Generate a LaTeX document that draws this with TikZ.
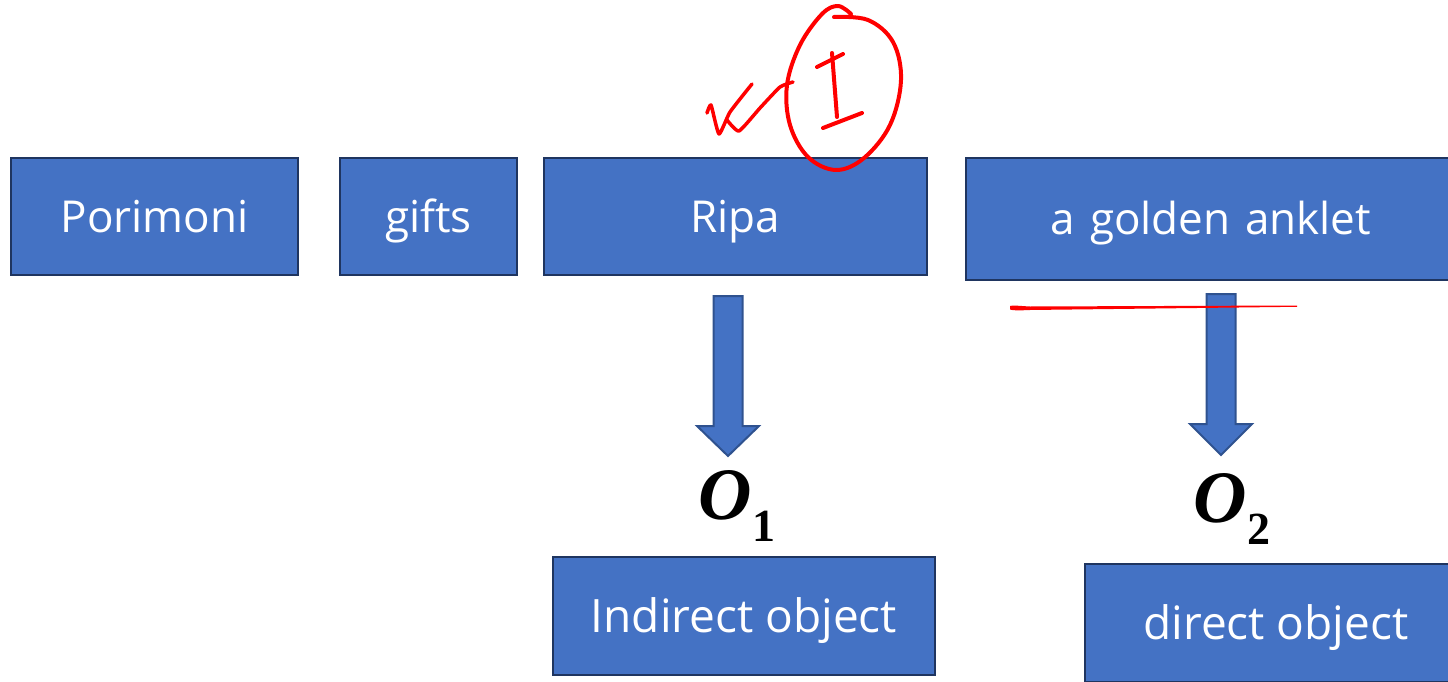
\documentclass[tikz,border=0pt]{standalone}
\usepackage{fontspec}
\setmainfont{Open Sans}
\newfontfamily\ofont{Liberation Serif}
\definecolor{boxblue}{HTML}{4472C4}
\definecolor{boxedge}{HTML}{1F3560}
\definecolor{arredge}{HTML}{2F528F}
\definecolor{inkred}{HTML}{FF0000}
\tikzset{
  wordbox/.style={draw=boxedge, line width=2.5pt, fill=boxblue, text=white,
    inner sep=0pt, font=\fontsize{44}{50}\selectfont, text height=31.4pt, text depth=0pt},
  lowbox/.style={wordbox, font=\fontsize{46}{52}\selectfont, text height=32.8pt},
  blockarrow/.style={draw=arredge, line width=2pt, fill=boxblue, line join=miter},
  ink/.style={draw=inkred, line width=4pt, line cap=round, line join=round},
  olabel/.style={inner sep=0pt, font=\fontsize{74}{78}\selectfont\ofont\bfseries\itshape}
}
\newcommand{\blockarr}[4]{%
  \path[blockarrow] (#1-14.5,#2) -- (#1+14.5,#2) -- (#1+14.5,#3) -- (#1+31,#3)
    -- (#1,#4) -- (#1-31,#3) -- (#1-14.5,#3) -- cycle;}
\begin{document}
\begin{tikzpicture}[x=1pt,y=-1pt]
\useasboundingbox (0,0) rectangle (1448,682);
\clip (0,0) rectangle (1448,682);
% top row
\node[wordbox, minimum width=287pt, minimum height=117pt] (porimoni) at (154.5,216.5) {Porimoni};
\node[wordbox, minimum width=177pt, minimum height=117pt] (gifts) at (428.5,216.5) {gifts};
\node[wordbox, minimum width=383pt, minimum height=117pt] (ripa) at (735.5,216.5) {Ripa};
\node[wordbox, minimum width=490pt, minimum height=122pt, text width=490pt, align=center] (anklet) at (1211,219) {a golden anklet};
% bottom row
\node[lowbox, minimum width=382pt, minimum height=118pt] (indirect) at (744,616) {Indirect object};
\node[lowbox, minimum width=382pt, minimum height=118pt] (direct) at (1276,623) {direct object};
% labels
\node[olabel] (o1) at (737,506) {O\raisebox{-0.3em}{\fontsize{46}{46}\selectfont\upshape 1}};
\node[olabel] (o2) at (1232,509) {O\raisebox{-0.3em}{\fontsize{46}{46}\selectfont\upshape 2}};
% block arrows
\blockarr{728}{296}{426}{456}
\blockarr{1221}{294}{424}{455}
% red ink: circled I
\draw[ink] plot[smooth, tension=0.6] coordinates {(851,14) (838,6) (822,14) (800,45) (787,85) (790,125) (808,157) (836,170) (864,158) (890,125) (901,80) (893,42) (868,20) (834,17)};
\draw[ink] (832,53) -- (837,117);
\draw[ink] (817,67) -- (843,54);
\draw[ink] (823,128) -- (862,113);
% red ink: tick-like mark
\draw[ink, line width=3.5pt] plot[smooth, tension=0.3] coordinates {(707,113) (711,105) (719,134) (730,112) (752,84)};
\draw[ink, line width=3.5pt] plot[smooth, tension=0.3] coordinates {(727,120) (739,131) (760,108) (780,87) (793,82)};
% red ink: underline
\fill[inkred] (1010,306) .. controls (1012,305) and (1020,306) .. (1030,306.5) -- (1297,305.5) -- (1297,306.8) -- (1030,310) .. controls (1020,310.5) and (1012,310.5) .. (1010,309.5) -- cycle;
\end{tikzpicture}
\end{document}
